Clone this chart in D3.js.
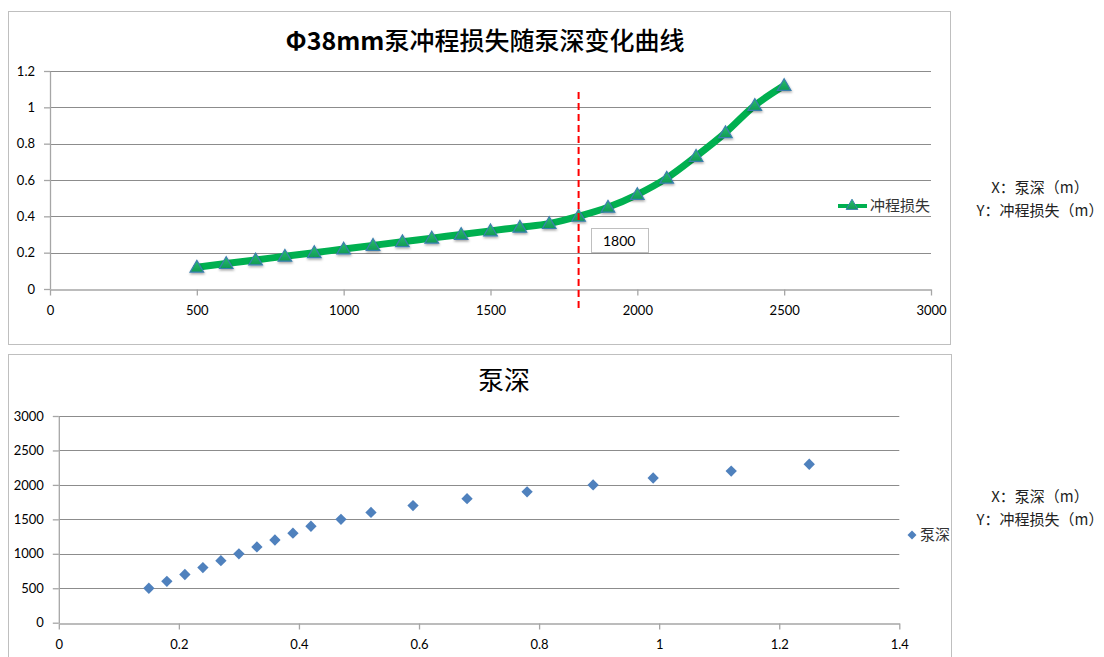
<!DOCTYPE html>
<html>
<head>
<meta charset="utf-8">
<script src="https://cdn.jsdelivr.net/npm/d3@7/dist/d3.min.js"></script>
<style>
  html, body { margin: 0; padding: 0; background: #ffffff; }
  svg { display: block; }
  .tick text { font-family: Lato, "Open Sans", sans-serif; font-size: 13px; fill: #000; }
</style>
</head>
<body>
<svg id="chart" width="1104" height="657"></svg>
<script>
// Stroke loss vs pump depth (upper chart)
const pumpDepth = [500, 600, 700, 800, 900, 1000, 1100, 1200, 1300, 1400, 1500,
                   1600, 1700, 1800, 1900, 2000, 2100, 2200, 2300, 2400, 2500];
const strokeLoss = [0.12, 0.14, 0.16, 0.18, 0.20, 0.22, 0.24, 0.26, 0.28, 0.30, 0.32,
                    0.34, 0.36, 0.40, 0.45, 0.52, 0.61, 0.73, 0.86, 1.01, 1.12];
const markDepth = 1800;

// Pump depth vs stroke loss (lower chart)
const lossX = [0.15, 0.18, 0.21, 0.24, 0.27, 0.30, 0.33, 0.36, 0.39, 0.42,
               0.47, 0.52, 0.59, 0.68, 0.78, 0.89, 0.99, 1.12, 1.25];
const depthY = [500, 600, 700, 800, 900, 1000, 1100, 1200, 1300, 1400,
                1500, 1600, 1700, 1800, 1900, 2000, 2100, 2200, 2300];

const topXTicks = [0, 500, 1000, 1500, 2000, 2500, 3000];
const topYTicks = [0, 0.2, 0.4, 0.6, 0.8, 1, 1.2];
const botXTicks = [0, 0.2, 0.4, 0.6, 0.8, 1, 1.2, 1.4];
const botYTicks = [0, 500, 1000, 1500, 2000, 2500, 3000];

const topTitleLatin = "Φ38mm";
const topTitleCJK = "泵冲程损失随泵深变化曲线";
const botTitle = "泵深";
const topLegend = "冲程损失";
const botLegend = "泵深";
const noteLines = ["X：泵深（m）", "Y：冲程损失（m）"];

const svg = d3.select("#chart");
const CJK = '"Noto Sans CJK SC", sans-serif';
const gridColor = "#8c8c8c";
const axisColor = "#a6a6a6";
const plain = d3.format("~g");

const defs = svg.append("defs");
const shadow = defs.append("filter").attr("id", "shadow")
  .attr("x", "-50%").attr("y", "-50%").attr("width", "200%").attr("height", "200%");
shadow.append("feDropShadow").attr("dx", 0.5).attr("dy", 1.5)
  .attr("stdDeviation", 1).attr("flood-color", "#000").attr("flood-opacity", 0.35);
const triGrad = defs.append("linearGradient").attr("id", "triFill")
  .attr("x1", 0).attr("y1", 0).attr("x2", 0).attr("y2", 1);
triGrad.append("stop").attr("offset", "0%").attr("stop-color", "#2cbf6d");
triGrad.append("stop").attr("offset", "100%").attr("stop-color", "#0f9a55");

// Chart frames
svg.append("rect").attr("x", 8.5).attr("y", 11.5).attr("width", 942).attr("height", 333)
  .attr("fill", "#fff").attr("stroke", "#bfbfbf");
svg.append("rect").attr("x", 8.5).attr("y", 354.5).attr("width", 943).attr("height", 320)
  .attr("fill", "#fff").attr("stroke", "#bfbfbf");

function styleAxis(g) {
  g.selectAll(".domain").attr("stroke", axisColor).attr("stroke-width", 1.3);
  g.selectAll(".tick line").attr("stroke", axisColor).attr("stroke-width", 1.3);
}

// ---------- Upper chart ----------
const x1 = d3.scaleLinear().domain([0, 3000]).range([50, 931]);
const y1 = d3.scaleLinear().domain([0, 1.2]).range([289, 71]);

svg.append("g").selectAll("line").data(topYTicks.filter(d => d > 0)).join("line")
  .attr("x1", x1(0)).attr("x2", x1(3000))
  .attr("y1", d => Math.round(y1(d)) + 0.5).attr("y2", d => Math.round(y1(d)) + 0.5)
  .attr("stroke", gridColor).attr("stroke-width", 1);

const ax1 = svg.append("g").attr("transform", `translate(0,${Math.round(y1(0)) + 0.5})`)
  .call(d3.axisBottom(x1).tickValues(topXTicks).tickSize(6).tickPadding(10).tickSizeOuter(0)
    .tickFormat(plain));
styleAxis(ax1);
const ay1 = svg.append("g").attr("transform", `translate(${x1(0)},0)`)
  .call(d3.axisLeft(y1).tickValues(topYTicks).tickSize(6).tickPadding(9).tickSizeOuter(0)
    .tickFormat(plain));
styleAxis(ay1);

const title = svg.append("text").attr("x", 485).attr("y", 50).attr("text-anchor", "middle")
  .attr("font-family", CJK).attr("font-size", 25).attr("fill", "#000");
title.append("tspan").attr("font-weight", "bold").text(topTitleLatin);
title.append("tspan").attr("font-weight", 500).text(topTitleCJK);

const topPts = pumpDepth.map((d, i) => [d, strokeLoss[i]]);
svg.append("path").datum(topPts)
  .attr("d", d3.line().x(d => x1(d[0])).y(d => y1(d[1])).curve(d3.curveCatmullRom.alpha(0.5)))
  .attr("fill", "none").attr("stroke", "#00b050").attr("stroke-width", 7)
  .attr("stroke-linecap", "round").attr("stroke-linejoin", "round");

const tri = d3.symbol().type(d3.symbolTriangle).size(80);
svg.append("g").selectAll("path").data(topPts).join("path")
  .attr("d", tri)
  .attr("transform", d => `translate(${x1(d[0])},${y1(d[1]) + 1})`)
  .attr("fill", "url(#triFill)").attr("stroke", "#3b7fae").attr("stroke-width", 1.2)
  .attr("filter", "url(#shadow)");

// Reference line at the marked depth
svg.append("line")
  .attr("x1", x1(markDepth)).attr("x2", x1(markDepth)).attr("y1", 92).attr("y2", 309)
  .attr("stroke", "#ff0000").attr("stroke-width", 2).attr("stroke-dasharray", "7,4");
svg.append("rect").attr("x", 591.5).attr("y", 228.5).attr("width", 57).attr("height", 24)
  .attr("fill", "#fff").attr("stroke", "#bfbfbf");
svg.append("text").attr("x", 603).attr("y", 246).attr("font-family", "Lato, sans-serif")
  .attr("font-size", 14).attr("fill", "#000").text(markDepth);

// Upper legend
svg.append("line").attr("x1", 838).attr("x2", 867).attr("y1", 206).attr("y2", 206)
  .attr("stroke", "#00b050").attr("stroke-width", 4);
svg.append("path").attr("d", d3.symbol().type(d3.symbolTriangle).size(60))
  .attr("transform", "translate(852,206)")
  .attr("fill", "url(#triFill)").attr("stroke", "#3b7fae").attr("stroke-width", 1);
svg.append("text").attr("x", 870).attr("y", 211).attr("font-family", CJK)
  .attr("font-size", 15).attr("fill", "#333").text(topLegend);

// ---------- Lower chart ----------
const x2 = d3.scaleLinear().domain([0, 1.4]).range([58.8, 899.3]);
const y2 = d3.scaleLinear().domain([0, 3000]).range([622.7, 416]);

svg.append("g").selectAll("line").data(botYTicks.filter(d => d > 0)).join("line")
  .attr("x1", x2(0)).attr("x2", x2(1.4))
  .attr("y1", d => Math.round(y2(d)) + 0.5).attr("y2", d => Math.round(y2(d)) + 0.5)
  .attr("stroke", gridColor).attr("stroke-width", 1);

const ax2 = svg.append("g").attr("transform", `translate(0,${Math.round(y2(0)) + 0.5})`)
  .call(d3.axisBottom(x2).tickValues(botXTicks).tickSize(6).tickPadding(10).tickSizeOuter(0)
    .tickFormat(plain));
styleAxis(ax2);
const ay2 = svg.append("g").attr("transform", `translate(${x2(0)},0)`)
  .call(d3.axisLeft(y2).tickValues(botYTicks).tickSize(6).tickPadding(9).tickSizeOuter(0)
    .tickFormat(plain));
styleAxis(ay2);

svg.append("text").attr("x", 504).attr("y", 390).attr("text-anchor", "middle")
  .attr("font-family", CJK).attr("font-size", 26).attr("font-weight", "normal")
  .attr("fill", "#000").text(botTitle);

const diamond = d3.symbol().type(d3.symbolSquare).size(64);
svg.append("g").selectAll("path").data(lossX.map((d, i) => [d, depthY[i]])).join("path")
  .attr("d", diamond)
  .attr("transform", d => `translate(${x2(d[0])},${y2(d[1])}) rotate(45)`)
  .attr("fill", "#4f81bd");

// Lower legend
svg.append("path").attr("d", d3.symbol().type(d3.symbolSquare).size(40))
  .attr("transform", "translate(912,535) rotate(45)").attr("fill", "#4f81bd");
svg.append("text").attr("x", 920).attr("y", 540).attr("font-family", CJK)
  .attr("font-size", 15).attr("fill", "#333").text(botLegend);

// Axis notes beside each chart
function notes(yTop) {
  svg.append("g").selectAll("text").data(noteLines).join("text")
    .attr("x", 1040).attr("y", (d, i) => yTop + i * 23)
    .attr("text-anchor", "middle").attr("font-family", CJK)
    .attr("font-size", 15).attr("fill", "#222").text(d => d);
}
notes(193);
notes(502);
</script>
</body>
</html>
